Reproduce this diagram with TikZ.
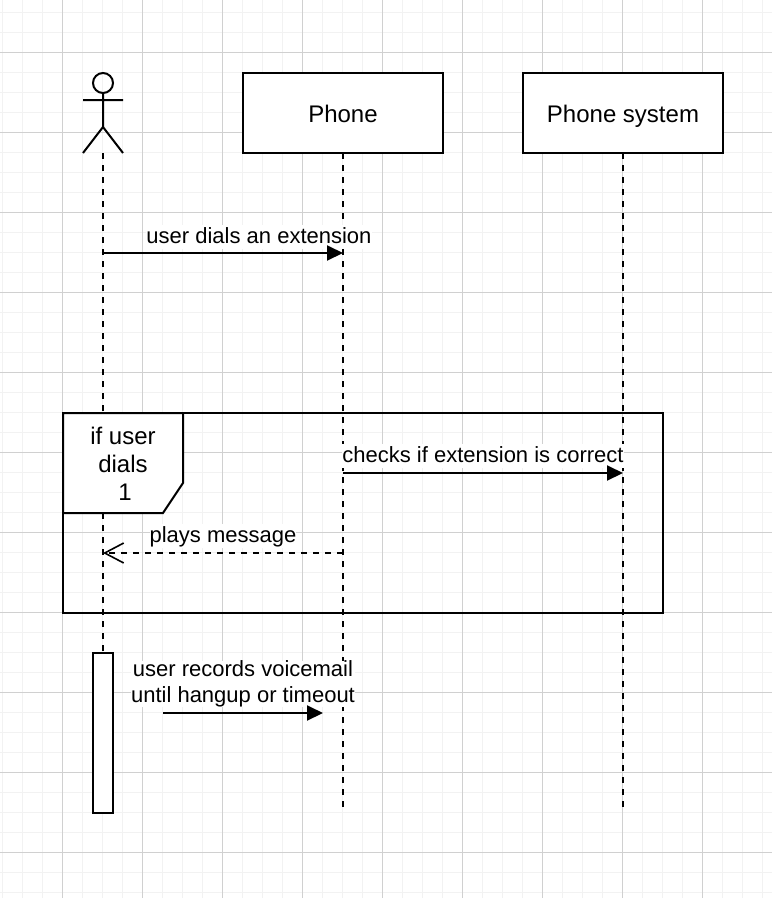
\documentclass[tikz,border=0pt]{standalone}
\usepackage{fontspec}
\setmainfont{Liberation Sans}
\usetikzlibrary{arrows.meta}
\definecolor{gridminor}{HTML}{F2F2F2}
\definecolor{gridmajor}{HTML}{D0D0D0}
\tikzset{
  every picture/.style={x=1pt,y=-1pt},
  shapeline/.style={draw=black,line width=2pt},
  boxnode/.style={shapeline,fill=white,minimum width=200pt,minimum height=80pt,inner sep=0pt,outer sep=0pt,text height=20pt,text depth=2pt,font=\fontsize{24}{28}\selectfont},
  lifeline/.style={draw=black,line width=2pt,dash pattern=on 6pt off 6pt},
  msg/.style={draw=black,line width=2pt,-{Triangle[length=16pt,width=15pt,fill=black]}},
  reply/.style={draw=black,line width=2pt,dash pattern=on 6pt off 6pt,-{Straight Barb[length=19pt,width=20pt,line width=1.6pt]}},
  msglabel/.style={fill=white,inner sep=0pt,align=center,font=\fontsize{22}{26}\selectfont},
  framelabel/.style={inner sep=0pt,align=center,font=\fontsize{24}{28}\selectfont},
  activation/.style={shapeline,fill=white,minimum width=20pt,minimum height=160pt,inner sep=0pt,outer sep=0pt},
}
\begin{document}
\begin{tikzpicture}
\useasboundingbox (0,0) rectangle (772,898);
% grid
\foreach \gx in {2.5,22.5,...,772} \draw[gridminor,line width=1.6pt] (\gx,0) -- (\gx,898);
\foreach \gy in {12.5,32.5,...,898} \draw[gridminor,line width=1.6pt] (0,\gy) -- (772,\gy);
\foreach \gx in {62.5,142.5,...,772} \draw[gridmajor,line width=1pt] (\gx,0) -- (\gx,898);
\foreach \gy in {52.5,132.5,...,898} \draw[gridmajor,line width=1pt] (0,\gy) -- (772,\gy);
% participants
\node[boxnode] (phone) at (343,113) {Phone};
\node[boxnode] (system) at (623,113) {Phone system};
% actor
\coordinate (actorfoot) at (103,153);
\coordinate (actoptop) at (103,653);
\draw[shapeline] (103,83) circle (10pt);
\draw[shapeline] (103,93) -- (103,127) (83,100) -- (123,100) (83,153) -- (103,127) -- (123,153);
% lifelines
\coordinate (phoneend) at (343,808);
\coordinate (systemend) at (623,808);
\draw[lifeline] (actorfoot) -- (actoptop);
\draw[lifeline] (phone.south) -- (phoneend);
\draw[lifeline] (system.south) -- (systemend);
\node[activation] (act) at (103,733) {};
% frame
\node[shapeline,minimum width=600pt,minimum height=200pt,inner sep=0pt,outer sep=0pt] (frame) at (363,513) {};
\draw[shapeline,fill=white,line join=miter] (frame.north west) -- (183,413) -- (183,483) -- (163,513) -- (63,513) -- cycle;
\node[framelabel,anchor=base] (fl1) at (123,444) {if user};
\node[framelabel,anchor=base] (fl2) at (123,472) {dials};
\node[framelabel,anchor=base] (fl3) at (125,500) {1};
% messages
\coordinate (a1) at (103,253); \coordinate (p1) at (343,253);
\coordinate (p2) at (343,473); \coordinate (s2) at (623,473);
\coordinate (p3) at (343,553); \coordinate (a3) at (103,553);
\coordinate (v1) at (163,713); \coordinate (v2) at (323,713);
\node[msglabel,anchor=base,text height=18pt,text depth=6pt] (l1) at (259,243) {user dials an extension};
\node[msglabel,anchor=base,text height=18pt,text depth=6pt] (l2) at (483,462) {checks if extension is correct};
\node[msglabel,anchor=base,text height=18pt,text depth=6pt] (l3) at (223,542) {plays message};
\node[msglabel] (l4) at (243,684) {user records voicemail\\until hangup or timeout};
\draw[msg] (a1) -- (p1);
\draw[msg] (p2) -- (s2);
\draw[reply] (p3) -- (a3);
\draw[msg] (v1) -- (v2);
\end{tikzpicture}
\end{document}
